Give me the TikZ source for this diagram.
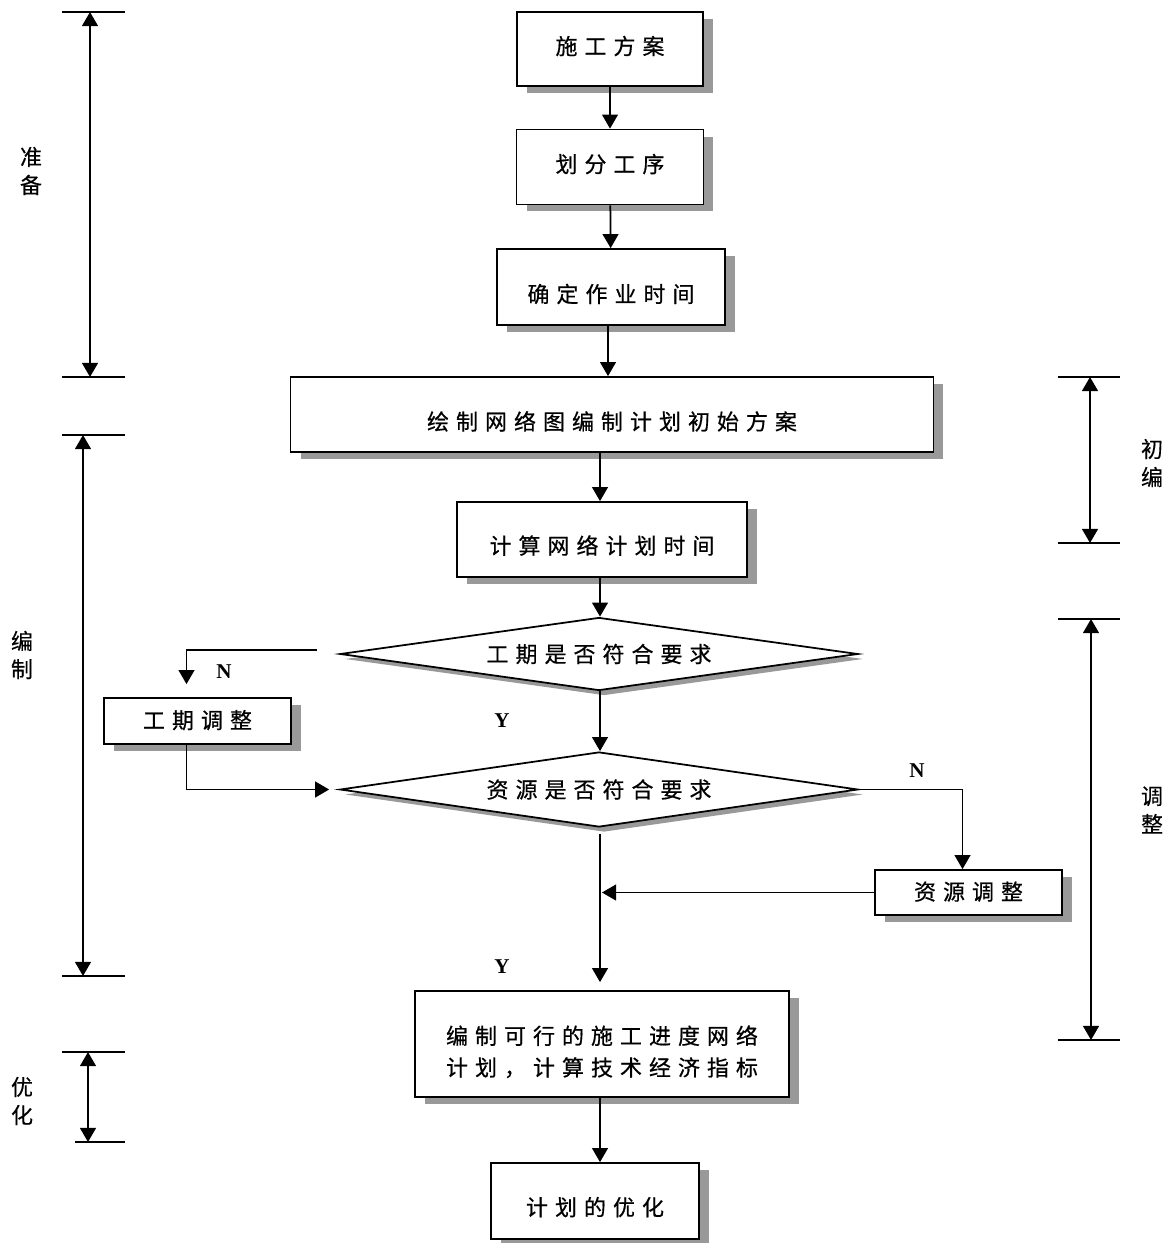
\documentclass[tikz,border=0pt]{standalone}
\usepackage{fontspec}
\setmainfont{Liberation Serif}
\newfontfamily\cjk[LetterSpace=32, FakeBold=0.6]{Noto Sans CJK SC}
\newfontfamily\cjkplain[FakeBold=0.3]{Noto Sans CJK SC}
\usepackage{tikz}
\usetikzlibrary{shapes.geometric, arrows.meta, shadows, calc}

\begin{document}
\begin{tikzpicture}[
  x=0.02cm, y=-0.02cm,
  box/.style  = {draw, line width=1pt, fill=white, inner sep=0pt,
                 minimum height=1.5cm, align=center,
                 font=\cjk\fontsize{12.5}{18}\selectfont,
                 drop shadow={shadow xshift=0.2cm, shadow yshift=-0.14cm,
                              fill=black!40, opacity=1}},
  dec/.style  = {diamond, aspect=7, draw, line width=1pt, fill=white,
                 inner sep=0pt, minimum width=10.36cm,
                 font=\cjk\fontsize{12.5}{18}\selectfont,
                 drop shadow={shadow xshift=0.1cm, shadow yshift=-0.1cm,
                              fill=black!40, opacity=1}},
  txtup/.style  = {text height=10pt, text depth=3.8pt},
  txtmid/.style = {text height=10pt, text depth=1.5pt},
  txtlow/.style = {text height=#1, text depth=1.5pt},
  side/.style = {inner sep=0pt, align=center,
                 font=\cjkplain\fontsize{12.5}{16}\selectfont},
  yn/.style   = {inner sep=0pt, font=\bfseries\fontsize{12}{14}\selectfont},
  arr/.style  = {-{Triangle[length=8pt,width=9pt]}, line width=1pt},
  span/.style = {{Triangle[length=8pt,width=9pt]}-{Triangle[length=8pt,width=9pt]},
                 line width=1pt},
  tick/.style = {line width=1pt},
]
\useasboundingbox (0,0) rectangle (1173,1243);

% Main column
\node[box, txtup, minimum width=3.72cm, minimum height=1.48cm] (plan) at (610,49) {施工方案};
\node[box, txtup, minimum width=3.74cm] (split) at (610,167) {划分工序};
\node[box, txtlow=19pt, minimum width=4.56cm, minimum height=1.52cm] (dur) at (611,287) {确定作业时间};
\node[box, txtlow=19pt, minimum width=12.86cm] (draft) at (612,414.5) {绘制网络图编制计划初始方案};
\node[box, txtlow=18pt, minimum width=5.8cm] (calc) at (602,539.5) {计算网络计划时间};

% Checks
\node[dec, minimum height=1.46cm] (chkT) at (599,654)   {工期是否符合要求};
\node[dec, minimum height=1.5cm]  (chkR) at (599,789.5) {资源是否符合要求};

% Adjustments
\node[box, txtmid, minimum width=3.74cm, minimum height=0.92cm] (adjT) at (197.5,721)   {工期调整};
\node[box, txtmid, minimum width=3.74cm, minimum height=0.9cm]  (adjR) at (968.5,892.5) {资源调整};

% Result
\node[box, minimum width=7.48cm, minimum height=2.12cm] (final) at (602,1044)
  {\rule{0pt}{19.5pt}编制可行的施工进度网络\\计划，计算技术经济指标};
\node[box, txtlow=18pt, minimum width=4.16cm, minimum height=1.52cm] (opt) at (595,1201) {计划的优化};

% Labels
\node[yn] (nT) at (224,672) {N};
\node[yn] (yT) at (502,721) {Y};
\node[yn] (nR) at (917,771) {N};
\node[yn] (yR) at (502,967) {Y};

% Arrows
\draw[arr] (plan)  -- (split);
\draw[arr] (split) -- (dur);
\draw[arr] ([xshift=-0.06cm]dur.south) -- ([xshift=-0.06cm]dur.south |- draft.north);
\draw[arr] ([xshift=-0.24cm]draft.south) -- ([xshift=-0.24cm]draft.south |- calc.north);
\draw[arr] ([xshift=-0.04cm]calc.south) -- ([xshift=-0.04cm]calc.south |- chkT.north);
\draw[arr] ([xshift=0.02cm]chkT.south) -- ([xshift=0.02cm]chkR.north);
\draw[arr] ([xshift=-0.44cm, yshift=0.08cm]chkT.west) -| ([xshift=-0.22cm, yshift=0.26cm]adjT.north);
\draw[arr] ([xshift=-0.22cm]adjT.south) |- ([xshift=-0.2cm]chkR.west);
\draw[arr] (chkR.east) -| ([xshift=-0.12cm]adjR.north);
\draw[arr] (adjR.west) -- ([xshift=0.06cm]adjR.west -| chkR.south);
\draw[arr] ([xshift=0.02cm, yshift=-0.12cm]chkR.south) -- ([xshift=0.02cm, yshift=0.16cm]final.north -| chkR.south);
\draw[arr] ([xshift=-0.04cm]final.south) -- ([xshift=-0.04cm]final.south |- opt.north);

% Stage spans, left
\draw[tick] (62,12) -- (125,12);
\draw[tick] (62,377) -- (125,377);
\draw[span] (90,12) -- (90,377);
\node[side] (prep) at (31,171) {准\\备};

\draw[tick] (62,435) -- (125,435);
\draw[tick] (62,976) -- (125,976);
\draw[span] (83,435) -- (83,976);
\node[side] (comp) at (22,655) {编\\制};

\draw[tick] (62,1052) -- (125,1052);
\draw[tick] (75,1142) -- (125,1142);
\draw[span] (88,1052) -- (88,1142);
\node[side] (optz) at (22,1101) {优\\化};

% Stage spans, right
\draw[tick] (1058,377) -- (1120,377);
\draw[tick] (1058,543) -- (1120,543);
\draw[span] (1090,377) -- (1090,543);
\node[side] (init) at (1152,463) {初\\编};

\draw[tick] (1058,619) -- (1120,619);
\draw[tick] (1058,1040) -- (1120,1040);
\draw[span] (1091,619) -- (1091,1040);
\node[side] (tune) at (1152,810) {调\\整};
\end{tikzpicture}
\end{document}
